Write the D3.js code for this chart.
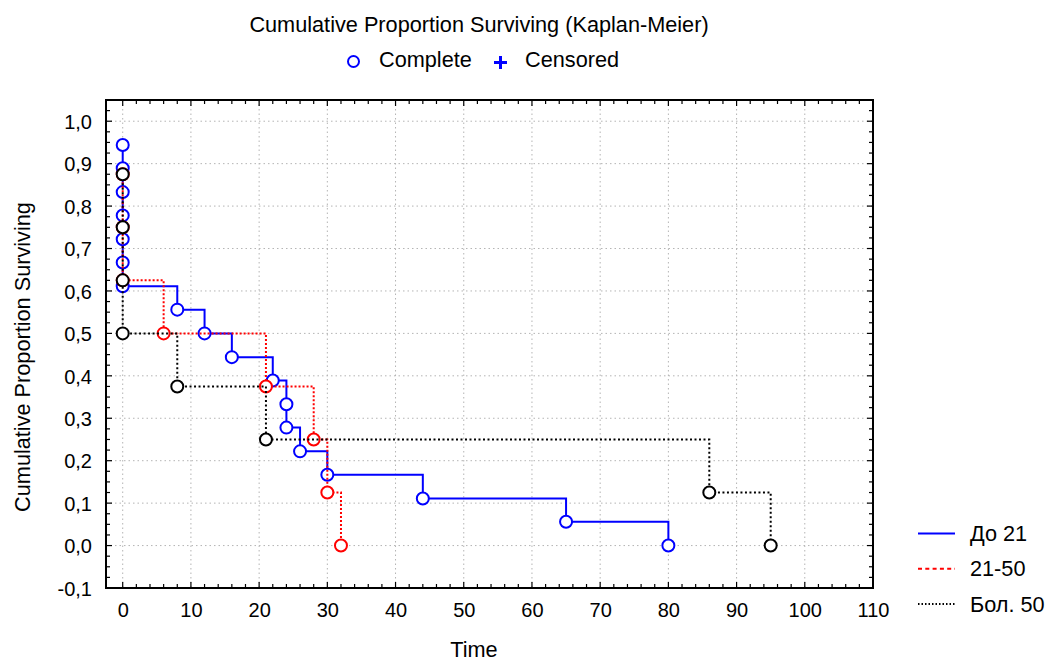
<!DOCTYPE html>
<html>
<head>
<meta charset="utf-8">
<script src="https://cdn.jsdelivr.net/npm/d3@7"></script>
<style>
  body { margin: 0; background: #fff; }
  svg { display: block; font-family: "Liberation Sans", Arial, sans-serif; }
</style>
</head>
<body>
<svg id="chart" width="1047" height="661"></svg>
<script>
// Kaplan-Meier estimates per group: event time and survival after the event
const groupNames = ["До 21", "21-50", "Бол. 50"];
const timesA = [0, 0, 0, 0, 0, 0, 0, 8, 12, 16, 22, 24, 24, 26, 30, 44, 65, 80];
const survA  = [0.944, 0.889, 0.833, 0.778, 0.722, 0.667, 0.611, 0.556, 0.5, 0.444, 0.389, 0.333, 0.278, 0.222, 0.167, 0.111, 0.056, 0];
const timesB = [0, 0, 0, 6, 21, 28, 30, 32];
const survB  = [0.875, 0.75, 0.625, 0.5, 0.375, 0.25, 0.125, 0];
const timesC = [0, 0, 0, 0, 8, 21, 86, 95];
const survC  = [0.875, 0.75, 0.625, 0.5, 0.375, 0.25, 0.125, 0];
const xTicks = [0, 10, 20, 30, 40, 50, 60, 70, 80, 90, 100, 110];
const yTicks = [-0.1, 0, 0.1, 0.2, 0.3, 0.4, 0.5, 0.6, 0.7, 0.8, 0.9, 1.0];

const series = [
  { name: groupNames[0], t: timesA, s: survA, color: "#0000ff", dash: null, legendDash: null },
  { name: groupNames[1], t: timesB, s: survB, color: "#ff0000", dash: "2,2", legendDash: "4,3.3" },
  { name: groupNames[2], t: timesC, s: survC, color: "#000000", dash: "2,2.5", legendDash: "1.5,2" }
];

const svg = d3.select("#chart");
const L = 106, R = 873, T = 100, B = 588;
const x = d3.scaleLinear().domain([-2.45, 110]).range([L, R]);
const y = d3.scaleLinear().domain([-0.1, 1.05]).range([B, T]);
const fmt = v => d3.format(".1f")(v).replace(".", ",").replace("−", "-");
const labelSize = 21.7;

// grid
const grid = svg.append("g");
grid.selectAll(".gx").data(xTicks).join("line")
  .attr("x1", d => x(d)).attr("x2", d => x(d)).attr("y1", T).attr("y2", B)
  .attr("stroke", "#b4b4b4").attr("stroke-width", 1).attr("stroke-dasharray", "1.5,3");
grid.selectAll(".gy").data(yTicks).join("line")
  .attr("x1", L).attr("x2", R).attr("y1", d => y(d)).attr("y2", d => y(d))
  .attr("stroke", "#b4b4b4").attr("stroke-width", 1).attr("stroke-dasharray", "1.5,3");

// axes with inward ticks
const xMinor = d3.range(0, 111, 2);
const yMinor = d3.range(-0.1, 1.051, 0.025);
const bottom = d3.axisBottom(x).tickValues(xTicks).tickSize(0).tickFormat(d => d);
const gB = svg.append("g").attr("transform", `translate(0,${B})`).call(bottom);
gB.select(".domain").remove();
gB.selectAll("text").attr("dy", 0).attr("y", 29)
  .attr("font-size", 20).attr("fill", "#000").attr("font-family", "Liberation Sans, Arial, sans-serif");
const left = d3.axisLeft(y).tickValues(yTicks).tickSize(0).tickFormat(fmt);
const gL = svg.append("g").attr("transform", `translate(${L},0)`).call(left);
gL.select(".domain").remove();
gL.selectAll("text").attr("x", -14).attr("dy", "0.36em")
  .attr("font-size", 20).attr("fill", "#000").attr("font-family", "Liberation Sans, Arial, sans-serif");

const ticks = svg.append("g").attr("stroke", "#000").attr("stroke-width", 1.2);
xMinor.forEach(v => {
  const len = v % 10 === 0 ? 6 : 4;
  ticks.append("line").attr("x1", x(v)).attr("x2", x(v)).attr("y1", B).attr("y2", B - len);
  ticks.append("line").attr("x1", x(v)).attr("x2", x(v)).attr("y1", T).attr("y2", T + len);
});
yMinor.forEach((v, i) => {
  const len = i % 4 === 0 ? 6 : 4;
  ticks.append("line").attr("x1", L).attr("x2", L + len).attr("y1", y(v)).attr("y2", y(v));
  ticks.append("line").attr("x1", R).attr("x2", R - len).attr("y1", y(v)).attr("y2", y(v));
});
svg.append("rect").attr("x", L).attr("y", T).attr("width", R - L).attr("height", B - T)
  .attr("fill", "none").attr("stroke", "#000").attr("stroke-width", 2);

// survival step curves and event markers
const line = d3.line().x(d => x(d[0])).y(d => y(d[1])).curve(d3.curveStepAfter);
series.forEach(sr => {
  const pts = sr.t.map((t, i) => [t, sr.s[i]]);
  const g = svg.append("g");
  g.append("path").attr("d", line(pts)).attr("fill", "none")
    .attr("stroke", sr.color).attr("stroke-width", 2)
    .attr("stroke-dasharray", sr.dash);
  g.selectAll("circle").data(pts).join("circle")
    .attr("cx", d => x(d[0])).attr("cy", d => y(d[1])).attr("r", 6)
    .attr("fill", "#fff").attr("stroke", sr.color).attr("stroke-width", 2);
});

// titles
svg.append("text").attr("x", 479).attr("y", 32).attr("text-anchor", "middle")
  .attr("font-size", labelSize).text("Cumulative Proportion Surviving (Kaplan-Meier)");
svg.append("circle").attr("cx", 353.5).attr("cy", 61.5).attr("r", 5.5)
  .attr("fill", "none").attr("stroke", "#0000ff").attr("stroke-width", 2);
svg.append("text").attr("x", 379).attr("y", 67).attr("font-size", labelSize).text("Complete");
svg.append("path").attr("d", "M494,62.5H507M500.5,56V69")
  .attr("stroke", "#0000ff").attr("stroke-width", 3);
svg.append("text").attr("x", 525).attr("y", 67).attr("font-size", labelSize).text("Censored");

svg.append("text").attr("transform", "translate(30,357) rotate(-90)")
  .attr("text-anchor", "middle").attr("font-size", labelSize).text("Cumulative Proportion Surviving");
svg.append("text").attr("x", 474).attr("y", 657).attr("text-anchor", "middle")
  .attr("font-size", labelSize).text("Time");

// group legend
const lg = svg.append("g");
series.forEach((sr, i) => {
  const yy = 533.5 + i * 35.3;
  lg.append("line").attr("x1", 918).attr("x2", 955).attr("y1", yy).attr("y2", yy)
    .attr("stroke", sr.color).attr("stroke-width", 2).attr("stroke-dasharray", sr.legendDash);
  lg.append("text").attr("x", 970).attr("y", yy + 7.5).attr("font-size", labelSize).text(sr.name);
});
</script>
</body>
</html>
